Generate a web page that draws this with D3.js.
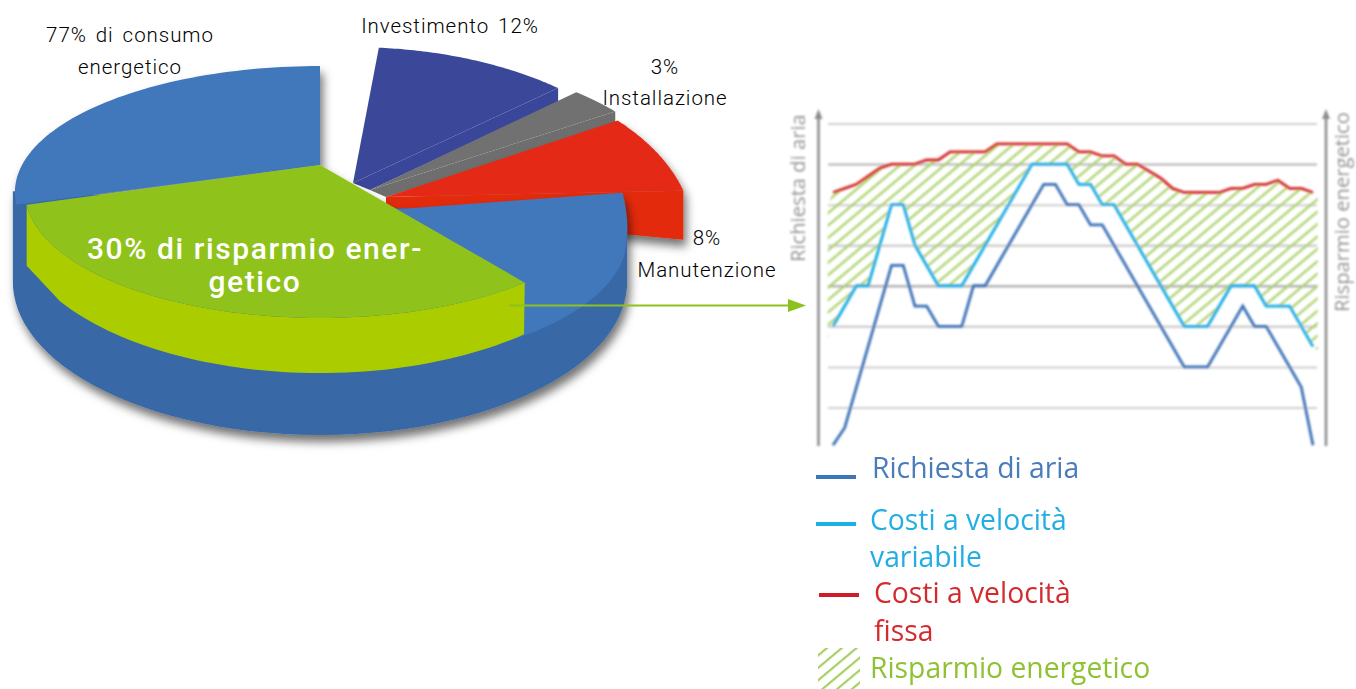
<!DOCTYPE html>
<html>
<head>
<meta charset="utf-8">
<script src="https://cdn.jsdelivr.net/npm/d3@7"></script>
<style>
    body { margin: 0; background: #fff; }
    svg { display: block; }
    .pieLabel { font-family: "Roboto", sans-serif; font-size: 20.5px; font-weight: 300; letter-spacing: 0.95px; word-spacing: 3px; fill: #000; }
    .pieInner { font-family: "Roboto", sans-serif; font-size: 30px; font-weight: 500; letter-spacing: 1.6px; fill: #fff; }
    .axisName { font-family: "Open Sans", sans-serif; font-size: 20.2px; fill: #959595; }
    .legendText { font-family: "Open Sans", sans-serif; font-size: 28.3px; }
</style>
</head>
<body>
<div class="vis"></div>
<script>
(function () {
    const svgWidth = 1356;
    const svgHeight = 689;

    // pie values, the 77% is split in the blue parts and the 30% green part
    const sliceNames = ["Investimento", "Installazione", "Manutenzione", "Consumo destra", "Risparmio", "Consumo sinistra"];
    const sliceValues = [12, 3, 8, 17, 30, 30];

    // line chart, x is the step number and y the grid level
    const demandX = [0, 1, 5, 6, 7, 8, 9, 11, 12, 13, 18, 19, 20, 21, 22, 23, 30, 32, 35, 36, 37, 40, 41];
    const demandY = [0.07, 0.5, 4.5, 4.5, 3.5, 3.5, 3, 3, 4, 4, 6.5, 6.5, 6, 6, 5.5, 5.5, 2, 2, 3.5, 3, 3, 1.5, 0.07];
    const variableX = [0, 2, 3, 5, 6, 7, 9, 11, 17, 20, 21, 22, 23, 24, 30, 32, 34, 36, 37, 39, 41];
    const variableY = [3, 4, 4, 6, 6, 5, 4, 4, 7, 7, 6.5, 6.5, 6, 6, 3, 3, 4, 4, 3.5, 3.5, 2.5];
    const fixedX = [0, 1, 2, 3, 4, 5, 7, 8, 9, 10, 13, 14, 20, 21, 22, 23, 24, 25, 26, 28, 29, 30, 33, 34, 35, 36, 37, 38, 39, 40, 41];
    const fixedY = [6.3, 6.4, 6.5, 6.7, 6.9, 7, 7, 7.1, 7.1, 7.3, 7.3, 7.5, 7.5, 7.3, 7.3, 7.2, 7.2, 7, 7, 6.65, 6.4, 6.3, 6.3, 6.4, 6.4, 6.5, 6.5, 6.6, 6.4, 6.4, 6.3];
    const gridLevels = [1, 2, 3, 4, 5, 6, 7, 8];

    const pieLabels = ["77% di consumo", "energetico", "Investimento 12%", "3%", "Installazione", "8%", "Manutenzione"];
    const legendLabels = ["Richiesta di aria", "Costi a velocità", "variabile", "Costi a velocità", "fissa", "Risparmio energetico"];

    const svg = d3.select(".vis")
        .append("svg")
            .attr("width", svgWidth)
            .attr("height", svgHeight);

    const defs = svg.append("defs");

    const shadow = defs.append("filter")
        .attr("id", "pieShadow")
        .attr("x", "-10%").attr("y", "-10%")
        .attr("width", "125%").attr("height", "125%");
    shadow.append("feDropShadow")
        .attr("dx", 3).attr("dy", 7)
        .attr("stdDeviation", 5)
        .attr("flood-color", "#000")
        .attr("flood-opacity", 0.55);

    // the right hand chart is a blurry picture in the original
    defs.append("filter")
        .attr("id", "soft")
        .attr("x", "-5%").attr("y", "-5%")
        .attr("width", "110%").attr("height", "110%")
        .append("feGaussianBlur")
            .attr("stdDeviation", 0.8);
    defs.append("filter")
        .attr("id", "softText")
        .attr("x", "-5%").attr("y", "-5%")
        .attr("width", "110%").attr("height", "110%")
        .append("feGaussianBlur")
            .attr("stdDeviation", 0.55);

    const hatch = defs.append("pattern")
        .attr("id", "hatch")
        .attr("patternUnits", "userSpaceOnUse")
        .attr("width", 9.5).attr("height", 9.5)
        .attr("patternTransform", "rotate(50)");
    hatch.append("line")
        .attr("x1", 2).attr("x2", 2)
        .attr("y1", 0).attr("y2", 9.5)
        .attr("stroke", "#a6cf63")
        .attr("stroke-width", 2.2);

    drawPie();
    drawLines();

    function drawPie() {
        const perspective = 0.2143;
        const deg = 180 / Math.PI;

        // every exploded slice sits on its own tilted disc
        const discs = {
            top: { x: 320, y: 165, R: 298, S: 120.2 },
            green: { x: 320, y: 165, R: 288, S: 120.2 },
            low: { x: 320, y: 186.6, R: 300, S: 146.5 },
            purple: { x: 353, y: 183, R: 310, S: 165 },
            grey: { x: 370, y: 190, R: 322, S: 165 },
            red: { x: 386, y: 197, R: 300, S: 165 }
        };
        const rimDepth = 61;
        const bodyDepth = 62;

        const project = function (disc, angle, drop) {
            const t = angle / deg;
            const den = 1 + perspective * Math.cos(t);
            return [
                disc.x + disc.R * Math.sin(t) / den,
                disc.y - disc.S * Math.cos(t) / den + (drop || 0)
            ];
        };
        const rim = function (disc, from, to, drop) {
            const n = 60;
            return d3.range(n + 1).map(function (i) {
                return project(disc, from + (to - from) * i / n, drop);
            });
        };
        const shape = d3.line().curve(d3.curveLinearClosed);

        const arcs = d3.pie().sort(null).value(function (d) { return d; })(sliceValues);
        const angles = arcs.map(function (a) {
            return { from: a.startAngle * deg, to: a.endAngle * deg };
        });

        // slices pulled out of the pie, foot is where the cut face ends near the tip
        const pulled = [
            { disc: discs.purple, depth: 14, turn: 5.8, foot: [17, 7], top: "#3b4899", side: "#39469a", filter: null },
            { disc: discs.grey, depth: 14, turn: 4, foot: [16, 7], top: "#717171", side: "#6e6e6e", filter: null },
            { disc: discs.red, depth: 49, turn: 5, foot: [0, 15], top: "#e42c12", side: "#e32b11", filter: "url(#pieShadow)" }
        ];
        pulled.forEach(function (s, i) {
            const a = angles[i];
            const group = svg.append("g").attr("filter", s.filter);
            const points = rim(s.disc, a.from + s.turn, a.to + s.turn);
            const corner = points[points.length - 1];
            group.append("path")
                .attr("d", shape([
                    [s.disc.x, s.disc.y], corner,
                    [corner[0], corner[1] + s.depth],
                    [s.disc.x + s.foot[0], s.disc.y + s.foot[1]]
                ]))
                .attr("fill", s.side);
            group.append("path")
                .attr("d", shape([[s.disc.x, s.disc.y]].concat(points)))
                .attr("fill", s.top);
        });

        const mainGroup = svg.append("g").attr("filter", "url(#pieShadow)");

        // dark wall of the disc
        const wall = rim(discs.low, 102, 258, bodyDepth);
        const leftTop = project(discs.top, 258);
        wall.push([wall[wall.length - 1][0], leftTop[1]]);
        wall.push(project(discs.low, 102));
        mainGroup.append("path")
            .attr("d", shape(wall))
            .attr("fill", "#3767a6");

        // blue surface on the right, lower than the green slice
        const right = angles[3];
        const tip = [discs.red.x, discs.red.y + 13];
        const sag = d3.scaleLinear().domain([0, 0.3, 1]).range([0, 15, 0]);
        const rightRim = rim(discs.low, right.from + 9.6, right.to + 6).map(function (p, i, all) {
            return [p[0], p[1] + sag(i / (all.length - 1))];
        });
        mainGroup.append("path")
            .attr("d", shape([tip].concat(rightRim)))
            .attr("fill", "#3f78bb");

        // blue surface top left
        const left = angles[5];
        mainGroup.append("path")
            .attr("d", shape([[discs.top.x, discs.top.y]].concat(rim(discs.top, left.from, left.to))))
            .attr("fill", "#3f78bb");

        // green slice with its wall
        const green = angles[4];
        const greenRim = rim(discs.green, green.from, green.to);
        const last = greenRim[greenRim.length - 1];
        const wallGreen = greenRim
            .concat([[last[0], last[1] + rimDepth]])
            .concat(rim(discs.low, green.from + 84, green.from + 2));
        mainGroup.append("path")
            .attr("d", shape(wallGreen))
            .attr("fill", "#abcd03");
        mainGroup.append("path")
            .attr("d", shape([[discs.green.x, discs.green.y]].concat(greenRim)))
            .attr("fill", "#8fc31f");

        // labels
        const labelSpots = [
            [130, 42], [130, 74], [450, 33], [665, 74], [665, 105], [707, 245], [707, 277]
        ];
        svg.selectAll(".pieLabel")
            .data(pieLabels)
            .enter().append("text")
                .attr("class", "pieLabel")
                .attr("text-anchor", "middle")
                .attr("x", function (d, i) { return labelSpots[i][0]; })
                .attr("y", function (d, i) { return labelSpots[i][1]; })
                .text(function (d) { return d; });

        svg.append("text")
            .attr("class", "pieInner")
            .attr("text-anchor", "middle")
            .attr("x", 255).attr("y", 259)
            .text("30% di risparmio ener-");
        svg.append("text")
            .attr("class", "pieInner")
            .attr("text-anchor", "middle")
            .attr("x", 255).attr("y", 292)
            .text("getico");

        // arrow from the green slice to the chart
        svg.append("line")
            .attr("x1", 509).attr("x2", 790)
            .attr("y1", 305.5).attr("y2", 305.5)
            .attr("stroke", "#8cc21f")
            .attr("stroke-width", 2);
        svg.append("path")
            .attr("d", "M788,299L806,305.5L788,312Z")
            .attr("fill", "#8cc21f");
    }

    function drawLines() {
        const xScale = d3.scaleLinear()
            .domain([0, 41])
            .range([833, 1313]);

        const yScale = d3.scaleLinear()
            .domain([0, 8])
            .range([448, 123.5]);

        const graph = svg.append("g").attr("filter", "url(#soft)");

        const grid = d3.axisRight(yScale)
            .tickValues(gridLevels)
            .tickSize(489)
            .tickFormat("");

        const callGrid = graph.append("g")
            .attr("transform", "translate(828, 0)")
            .call(grid);
        callGrid.select(".domain").remove();
        callGrid.selectAll(".tick line")
            .attr("stroke", function (d) { return d === 7 || d === 4 ? "#b4b4b4" : "#cfcfcf"; })
            .attr("stroke-width", function (d) { return d === 4 || d === 3 || d === 5 ? 2.6 : 2; });

        const points = function (xs, ys) {
            return xs.map(function (x, i) { return [xScale(x), yScale(ys[i])]; });
        };

        // saving area between the fixed and the variable cost lines
        const upper = points(fixedX, fixedY);
        const lower = points(variableX, variableY).reverse();
        const area = [[xScale(-0.45), yScale(5.97)]]
            .concat(upper)
            .concat([[xScale(41.4), yScale(6.2)], [xScale(41.4), yScale(2.4)]])
            .concat(lower)
            .concat([[xScale(-0.45), yScale(2.72)]]);
        graph.append("path")
            .attr("d", d3.line().curve(d3.curveLinearClosed)(area))
            .attr("fill", "url(#hatch)");

        const series = [
            { pts: points(demandX, demandY), color: "#3a70b6" },
            { pts: points(fixedX, fixedY), color: "#d4282a" },
            { pts: points(variableX, variableY), color: "#14ace4" }
        ];
        graph.selectAll(".series")
            .data(series)
            .enter().append("path")
                .attr("class", "series")
                .attr("d", function (d) { return d3.line()(d.pts); })
                .attr("fill", "none")
                .attr("stroke", function (d) { return d.color; })
                .attr("stroke-width", 2.8);

        // vertical arrows and their names
        [818.5, 1326].forEach(function (x) {
            graph.append("line")
                .attr("x1", x).attr("x2", x)
                .attr("y1", 446).attr("y2", 114)
                .attr("stroke", "#8d8d8d")
                .attr("stroke-width", 2.6);
            graph.append("path")
                .attr("d", d3.line()([[x - 4, 119], [x, 109], [x + 4, 119]]))
                .attr("fill", "#8d8d8d");
        });
        graph.append("text")
            .attr("class", "axisName")
            .attr("transform", "translate(805, 262) rotate(-90)")
            .text("Richiesta di aria");
        graph.append("text")
            .attr("class", "axisName")
            .attr("transform", "translate(1349, 312) rotate(-90)")
            .text("Risparmio energetico");

        // legend
        const legend = svg.append("g").attr("filter", "url(#softText)");
        const legendLines = [
            { x: 816, y: 477, color: "#3c74b9" },
            { x: 816, y: 524, color: "#1eb0e6" },
            { x: 819, y: 595, color: "#cf1f25" }
        ];
        legendLines.forEach(function (d) {
            legend.append("line")
                .attr("x1", d.x).attr("x2", d.x + 40)
                .attr("y1", d.y).attr("y2", d.y)
                .attr("stroke", d.color)
                .attr("stroke-width", 4);
        });
        legend.append("rect")
            .attr("x", 818).attr("y", 648)
            .attr("width", 42).attr("height", 41)
            .attr("fill", "url(#hatch)");

        const legendStyle = [
            { x: 872, y: 478, color: "#4a7cbb" },
            { x: 870, y: 530, color: "#22aee3" },
            { x: 870, y: 567, color: "#22aee3" },
            { x: 874, y: 603, color: "#d32c2f" },
            { x: 874, y: 641, color: "#d32c2f" },
            { x: 870, y: 678, color: "#8fc233" }
        ];
        legend.selectAll(".legendText")
            .data(legendLabels)
            .enter().append("text")
                .attr("class", "legendText")
                .attr("x", function (d, i) { return legendStyle[i].x; })
                .attr("y", function (d, i) { return legendStyle[i].y; })
                .attr("fill", function (d, i) { return legendStyle[i].color; })
                .text(function (d) { return d; });
    }
} ());
</script>
</body>
</html>
